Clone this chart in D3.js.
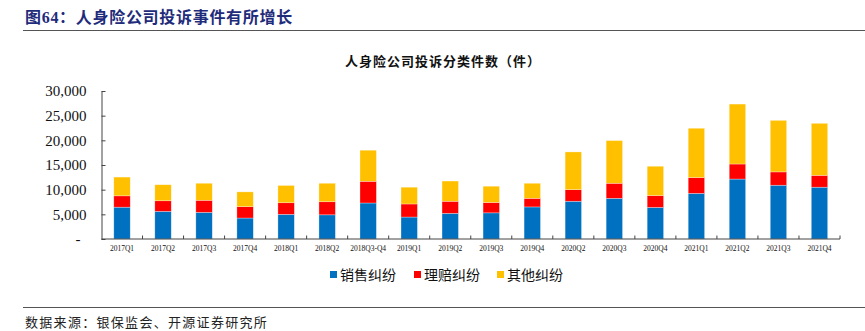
<!DOCTYPE html>
<html>
<head>
<meta charset="utf-8">
<script src="https://cdn.jsdelivr.net/npm/d3@7"></script>
<style>
  body { margin: 0; background: #fff; }
  svg { display: block; }
</style>
</head>
<body>
<div class="chart"></div>
<script>
// data (件)
var quarters = ["2017Q1", "2017Q2", "2017Q3", "2017Q4", "2018Q1", "2018Q2", "2018Q3-Q4",
                "2019Q1", "2019Q2", "2019Q3", "2019Q4", "2020Q2", "2020Q3", "2020Q4",
                "2021Q1", "2021Q2", "2021Q3", "2021Q4"];
var sales  = [6450, 5600, 5400, 4250, 5000, 4900, 7300, 4450, 5200, 5300, 6500, 7650, 8250, 6400, 9250, 12150, 10900, 10500];
var claims = [2300, 2150, 2450, 2300, 2350, 2650, 4400, 2650, 2450, 2100, 1750, 2350, 3050, 2400, 3200, 3050, 2700, 2400];
var others = [3800, 3250, 3450, 3000, 3500, 3750, 6300, 3400, 4100, 3300, 3050, 7650, 8650, 5950, 10000, 12150, 10450, 10550];
var seriesNames = ["销售纠纷", "理赔纠纷", "其他纠纷"];
var yTicks = [0, 5000, 10000, 15000, 20000, 25000, 30000];

var colors = ["#0070C0", "#FF0000", "#FFC000"];
var cjk = "'Noto Sans CJK SC', sans-serif";
var serif = "'Liberation Serif', 'Times New Roman', serif";

var svgWidth = 865, svgHeight = 331;
var margin = { top: 91, right: 25, bottom: 92, left: 101.5 };
var chartWidth = 840 - margin.left;
var chartHeight = 239 - margin.top;

var svg = d3.select(".chart").append("svg")
            .attr("width", svgWidth)
            .attr("height", svgHeight);

// header
svg.append("text")
   .attr("x", 25).attr("y", 23)
   .attr("fill", "#1F2B7B")
   .style("font-family", serif + ", " + cjk)
   .style("font-size", "16px")
   .style("font-weight", "bold")
   .style("letter-spacing", "0.7px")
   .text("图64：人身险公司投诉事件有所增长");

svg.append("line")
   .attr("x1", 23).attr("x2", 865).attr("y1", 30.5).attr("y2", 30.5)
   .attr("stroke", "#555").attr("stroke-width", 1.2);

svg.append("text")
   .attr("x", 443).attr("y", 66)
   .attr("text-anchor", "middle")
   .attr("fill", "#111")
   .style("font-family", cjk)
   .style("font-size", "13px")
   .style("font-weight", "bold")
   .style("letter-spacing", "1px")
   .text("人身险公司投诉分类件数（件）");

var chartGroup = svg.append("g")
                    .attr("transform", `translate(${margin.left}, ${margin.top})`);

var table = quarters.map(function(q, i) {
    return { q: q, s0: sales[i], s1: claims[i], s2: others[i] };
});
var stacked = d3.stack().keys(["s0", "s1", "s2"])(table);

var xBandScale = d3.scaleBand()
                   .domain(quarters)
                   .range([0, chartWidth])
                   .paddingInner(0.6)
                   .paddingOuter(0.3);

var yLinearScale = d3.scaleLinear()
                     .domain([0, 30000])
                     .range([chartHeight, 0]);

// bars
chartGroup.selectAll("g.layer")
          .data(stacked)
          .enter()
          .append("g")
          .attr("class", "layer")
          .attr("fill", (d, i) => colors[i])
          .selectAll("rect")
          .data(d => d)
          .enter()
          .append("rect")
          .attr("x", d => xBandScale(d.data.q))
          .attr("width", xBandScale.bandwidth())
          .attr("y", d => yLinearScale(d[1]))
          .attr("height", d => yLinearScale(d[0]) - yLinearScale(d[1]))
          .attr("stroke", "#fff")
          .attr("stroke-opacity", 0.5)
          .attr("stroke-width", 0.6);

// y axis, ticks pointing inwards
var leftAxis = d3.axisLeft(yLinearScale)
                 .tickValues(yTicks)
                 .tickSizeInner(-4)
                 .tickSizeOuter(0)
                 .tickPadding(15)
                 .tickFormat(d => d === 0 ? "-" : d3.format(",")(d));

var yAxis = chartGroup.append("g").call(leftAxis);
yAxis.selectAll("text")
     .style("font-family", serif)
     .style("font-size", "15px")
     .attr("fill", "#111");
yAxis.selectAll("text").filter(d => d === 0).attr("dx", -6);
yAxis.select(".domain").attr("stroke", "#444");
yAxis.selectAll(".tick line").attr("stroke", "#444");

// x axis: baseline plus inward tick marks between categories
var step = xBandScale.step();
var boundaries = d3.range(quarters.length + 1).map(i => i * step);
var xAxis = chartGroup.append("g")
                      .attr("transform", `translate(0, ${chartHeight})`);
xAxis.append("line")
     .attr("x1", 0).attr("x2", chartWidth)
     .attr("stroke", "#444");
xAxis.selectAll("line.tk")
     .data(boundaries.slice(1))
     .enter()
     .append("line")
     .attr("class", "tk")
     .attr("x1", d => d).attr("x2", d => d)
     .attr("y1", 0).attr("y2", -3.5)
     .attr("stroke", "#444");
xAxis.selectAll("text")
     .data(quarters)
     .enter()
     .append("text")
     .attr("x", d => xBandScale(d) + xBandScale.bandwidth() / 2)
     .attr("y", 12)
     .attr("text-anchor", "middle")
     .attr("fill", "#111")
     .style("font-family", serif)
     .style("font-size", "7.5px")
     .text(d => d);

// legend
var legendX = [330, 414, 497];
var legend = svg.append("g").selectAll("g")
                .data(seriesNames)
                .enter()
                .append("g")
                .attr("transform", (d, i) => `translate(${legendX[i]}, 275)`);
legend.append("rect")
      .attr("x", 0).attr("y", -4)
      .attr("width", 7).attr("height", 7)
      .attr("fill", (d, i) => colors[i]);
legend.append("text")
      .attr("x", 10).attr("y", 5)
      .attr("fill", "#111")
      .style("font-family", cjk)
      .style("font-size", "14px")
      .text(d => d);

// footer
svg.append("line")
   .attr("x1", 23).attr("x2", 865).attr("y1", 307.5).attr("y2", 307.5)
   .attr("stroke", "#555").attr("stroke-width", 1);

svg.append("text")
   .attr("x", 25).attr("y", 327)
   .attr("fill", "#222")
   .style("font-family", cjk)
   .style("font-size", "13px")
   .style("letter-spacing", "1.3px")
   .text("数据来源：银保监会、开源证券研究所");
</script>
</body>
</html>
